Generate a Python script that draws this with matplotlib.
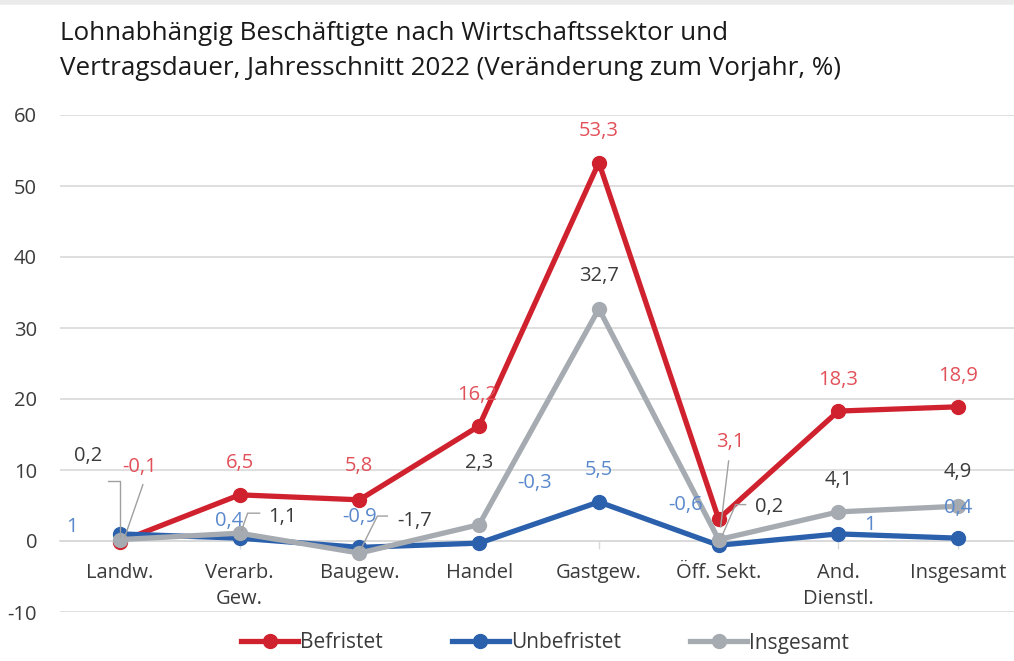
import numpy as np
import matplotlib
matplotlib.use("Agg")
from matplotlib import pyplot as plt
from matplotlib.lines import Line2D
from matplotlib.transforms import IdentityTransform

plt.rcParams['font.family'] = ['Open Sans', 'DejaVu Sans']
plt.rcParams['axes.unicode_minus'] = False

categories = ["Landw.", "Verarb.\nGew.", "Baugew.", "Handel", "Gastgew.",
              "Öff. Sekt.", "And.\nDienstl.", "Insgesamt"]
befristet = [-0.1, 6.5, 5.8, 16.2, 53.3, 3.1, 18.3, 18.9]
unbefristet = [1, 0.4, -0.9, -0.3, 5.5, -0.6, 1, 0.4]
insgesamt = [0.2, 1.1, -1.7, 2.3, 32.7, 0.2, 4.1, 4.9]
y_ticks = [-10, 0, 10, 20, 30, 40, 50, 60]

RED = "#d0222e"
BLUE = "#2b60ad"
GREY = "#a5abb1"
RED_TXT = "#e25059"
BLUE_TXT = "#5a88cc"
DARK_TXT = "#3b3b3b"
GRID = "#d9d9d9"
FS = 14.5

# label offsets in pixels (dx, dy) relative to the point
off_bef = [(20, 75), (0, 32), (0, 34), (-2, 31), (0, 32), (12, 77), (0, 31), (0, 31)]
off_unb = [(-48, 7), (-10, 17), (0, 30), (56, 60), (0, 32), (-33, 40), (32, 9), (0, 30)]
off_ins = [(-32, 84), (43, 16), (55, 32), (0, 62), (0, 33), (50, 33), (0, 32), (0, 34)]

# leader lines (series, index, vertices in pixel offsets)
leaders = [
    ("bef", 0, [(23, 57), (5, 5)]),
    ("bef", 5, [(10, 58), (2, -8)]),
    ("ins", 0, [(-12, 59), (0, 59), (0, 4)]),
    ("ins", 1, [(20, 20), (8, 20), (2, 3)]),
    ("ins", 2, [(28, 37), (18, 37), (2, 5)]),
    ("ins", 5, [(27, 35), (17, 35), (4, 5)]),
]


def fmt(v):
    if float(v).is_integer():
        return f"{int(v)}"
    return f"{v:.1f}".replace(".", ",")


fig = plt.figure(figsize=(10.14, 6.61), dpi=100)
ax = fig.add_axes([60 / 1014, 49 / 661, 958 / 1014, 497 / 661])

x = np.arange(len(categories))
series = {
    "bef": (befristet, RED, RED_TXT, off_bef, "Befristet"),
    "unb": (unbefristet, BLUE, BLUE_TXT, off_unb, "Unbefristet"),
    "ins": (insgesamt, GREY, DARK_TXT, off_ins, "Insgesamt"),
}
for z, key in enumerate(["bef", "unb", "ins"]):
    vals, col, tcol, offs, name = series[key]
    ax.plot(x, vals, color=col, lw=3.8, marker="o", ms=10, label=name,
            zorder=3 + z, solid_joinstyle="round")

for s in ["left", "right", "top"]:
    ax.spines[s].set_visible(False)
ax.spines["bottom"].set_position(("data", 0))
ax.spines["bottom"].set_color(GRID)
ax.spines["bottom"].set_linewidth(1.2)

ax.set_xlim(-0.5, 7.5)
ax.set_ylim(-10, 60)
ax.set_yticks(y_ticks)
ax.set_xticks(x)
ax.set_xticklabels(categories, linespacing=1.4)
ax.tick_params(axis="y", length=0, pad=16.5, labelsize=FS, labelcolor=DARK_TXT)
ax.tick_params(axis="x", length=6, width=1, color=GRID, pad=10, labelsize=FS,
               labelcolor=DARK_TXT)
ax.grid(axis="y", color=GRID, lw=1.2)
ax.set_axisbelow(True)

for key in ["bef", "unb", "ins"]:
    vals, col, tcol, offs, name = series[key]
    for i, v in enumerate(vals):
        ax.annotate(fmt(v), (i, v), xytext=offs[i], textcoords="offset pixels",
                    ha="center", va="center", fontsize=FS, color=tcol, zorder=10)

fig.canvas.draw()
for key, i, verts in leaders:
    vals = series[key][0]
    px, py = ax.transData.transform((i, vals[i]))
    xs = [px + dx for dx, dy in verts]
    ys = [py + dy for dx, dy in verts]
    fig.add_artist(Line2D(xs, ys, transform=IdentityTransform(), color="#a0a0a0",
                          lw=1.0, zorder=9))

leg = fig.legend(loc="center", bbox_to_anchor=(545 / 1014, 1 - 643 / 661), ncol=3,
                 frameon=False, fontsize=15, handlelength=2.75, columnspacing=3.3,
                 handletextpad=0.1)
for t in leg.get_texts():
    t.set_color(DARK_TXT)

fig.text(60 / 1014, 1 - 51 / 661,
         "Lohnabhängig Beschäftigte nach Wirtschaftssektor und\n"
         "Vertragsdauer, Jahresschnitt 2022 (Veränderung zum Vorjahr, %)",
         fontsize=18.7, color="#1a1a1a", ha="left", va="center", linespacing=1.5)

fig.add_artist(Line2D([0, 1], [1 - 2 / 661, 1 - 2 / 661], transform=fig.transFigure,
                      color="#ebebeb", lw=4))

fig.savefig("out.png", dpi=100)
